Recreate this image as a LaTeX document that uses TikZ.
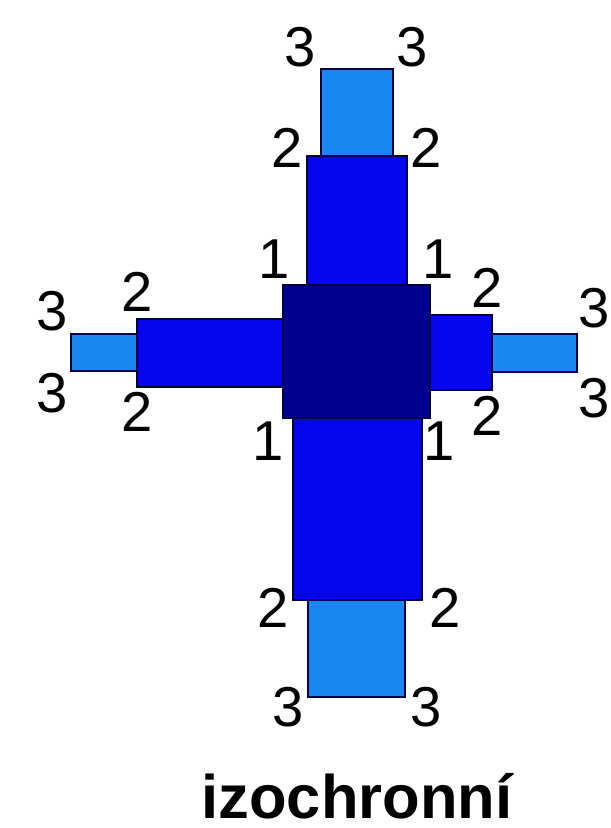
\documentclass[tikz,border=0pt]{standalone}
\usepackage{fontspec}
\setmainfont{Liberation Sans}
\definecolor{izlight}{HTML}{1A86F2}
\definecolor{izblue}{HTML}{0505EE}
\definecolor{izcore}{HTML}{000090}
\definecolor{izedge}{HTML}{000040}
\begin{document}
\begin{tikzpicture}[x=0.02cm, y=-0.02cm,
  zone/.style={draw=izedge, line width=1.2pt},
  outer/.style={zone, fill=izlight},
  inner/.style={zone, fill=izblue},
  core/.style={zone, fill=izcore},
  num/.style={inner sep=0pt, font=\fontsize{32}{32}\selectfont},
  title/.style={inner sep=0pt, anchor=base, font=\fontsize{35}{35}\selectfont\bfseries},
]
  \useasboundingbox[fill=white] (0,0) rectangle (611,828);

  % Outer (level 3) arms.
  \draw[outer] (321,69) rectangle (393,156);
  \draw[outer] (71,334) rectangle (137,371);
  \draw[outer] (492,334) rectangle (577,372);
  \draw[outer] (308,600) rectangle (405,697);

  % Inner (level 2) arms.
  \draw[inner] (307,156) rectangle (407,285);
  \draw[inner] (137,319) rectangle (283,387);
  \draw[inner] (430,315) rectangle (492,390);
  \draw[inner] (293,418) rectangle (422,600);

  % Core (level 1).
  \draw[core] (283,285) rectangle (430,418);

  % Top arm labels.
  \node[num] (t3l) at (300,47) {3};
  \node[num] (t3r) at (412,47) {3};
  \node[num] (t2l) at (287,148) {2};
  \node[num] (t2r) at (426,148) {2};
  \node[num] (t1l) at (274,259) {1};
  \node[num] (t1r) at (438,259) {1};

  % Left arm labels.
  \node[num] (l2t) at (137,292) {2};
  \node[num] (l3t) at (52,311) {3};
  \node[num] (l3b) at (52,393) {3};
  \node[num] (l2b) at (137,412) {2};

  % Right arm labels.
  \node[num] (r2t) at (487,288) {2};
  \node[num] (r3t) at (594,308) {3};
  \node[num] (r3b) at (594,398) {3};
  \node[num] (r2b) at (487,416) {2};

  % Bottom arm labels.
  \node[num] (b1l) at (268,441) {1};
  \node[num] (b1r) at (439,441) {1};
  \node[num] (b2l) at (273,608) {2};
  \node[num] (b2r) at (445,608) {2};
  \node[num] (b3l) at (288,707) {3};
  \node[num] (b3r) at (426,707) {3};

  \node[title] (name) at (357,818) {izochronní};
\end{tikzpicture}
\end{document}
